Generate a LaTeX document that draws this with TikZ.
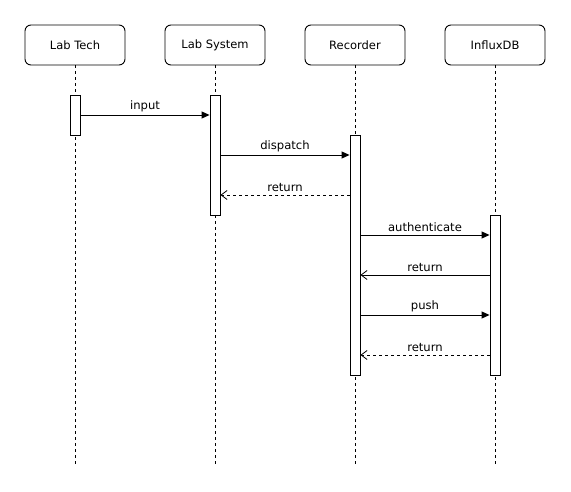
\documentclass[tikz,border=0pt]{standalone}
\usepackage{fontspec}
\setmainfont{DejaVu Sans}
\usetikzlibrary{arrows.meta}
\begin{document}
\begin{tikzpicture}[x=1pt,y=-1pt,line width=0.9pt,
  actor/.style={draw,rounded corners=6pt,minimum width=100pt,minimum height=40pt,
    inner sep=0pt,font=\fontsize{11.5}{13}\selectfont},
  actbar/.style={draw,fill=white,minimum width=10pt,inner sep=0pt},
  lifeline/.style={dash pattern=on 3pt off 3pt},
  call/.style={-{Triangle[length=8pt,width=7pt]}},
  reply/.style={-{Straight Barb[length=6pt,width=9pt,line width=0.8pt]}},
  replydash/.style={reply,dash pattern=on 3pt off 3pt},
  msg/.style={font=\fontsize{11.6}{13}\selectfont,inner sep=0pt}]
\fill[white] (0,0) rectangle (571,491);
\useasboundingbox (0,0) rectangle (571,491);

% participants
\node[actor] (tech) at (75,45) {Lab Tech};
\node[actor] (sys) at (215,45) {Lab System};
\node[actor] (rec) at (355,45) {Recorder};
\node[actor] (db) at (495,45) {InfluxDB};

% lifeline ends
\coordinate (techEnd) at (75,464);
\coordinate (sysEnd) at (215,464);
\coordinate (recEnd) at (355,464);
\coordinate (dbEnd) at (495,464);

\draw[lifeline] (tech.south) -- (techEnd);
\draw[lifeline] (sys.south) -- (sysEnd);
\draw[lifeline] (rec.south) -- (recEnd);
\draw[lifeline] (db.south) -- (dbEnd);

% activation bars
\node[actbar,minimum height=40pt] (techA) at (75,115) {};
\node[actbar,minimum height=120pt] (sysA) at (215,155) {};
\node[actbar,minimum height=240pt] (recA) at (355,255) {};
\node[actbar,minimum height=160pt] (dbA) at (495,295) {};

% messages
\draw[call] (techA.east |- 0,115) -- node[msg,above=3pt] (m1) {input} (sysA.west |- 0,115);
\draw[call] (sysA.east |- 0,155) -- node[msg,above=3pt] (m2) {dispatch} (recA.west |- 0,155);
\draw[replydash] (recA.west |- 0,195) -- node[msg,above=3pt] (m3) {return} (sysA.east |- 0,195);
\draw[call] (recA.east |- 0,235) -- node[msg,above=3pt] (m4) {authenticate} (dbA.west |- 0,235);
\draw[reply] (dbA.west |- 0,275) -- node[msg,above=3pt] (m5) {return} (recA.east |- 0,275);
\draw[call] (recA.east |- 0,315) -- node[msg,above=3pt] (m6) {push} (dbA.west |- 0,315);
\draw[replydash] (dbA.west |- 0,355) -- node[msg,above=3pt] (m7) {return} (recA.east |- 0,355);
\end{tikzpicture}
\end{document}
